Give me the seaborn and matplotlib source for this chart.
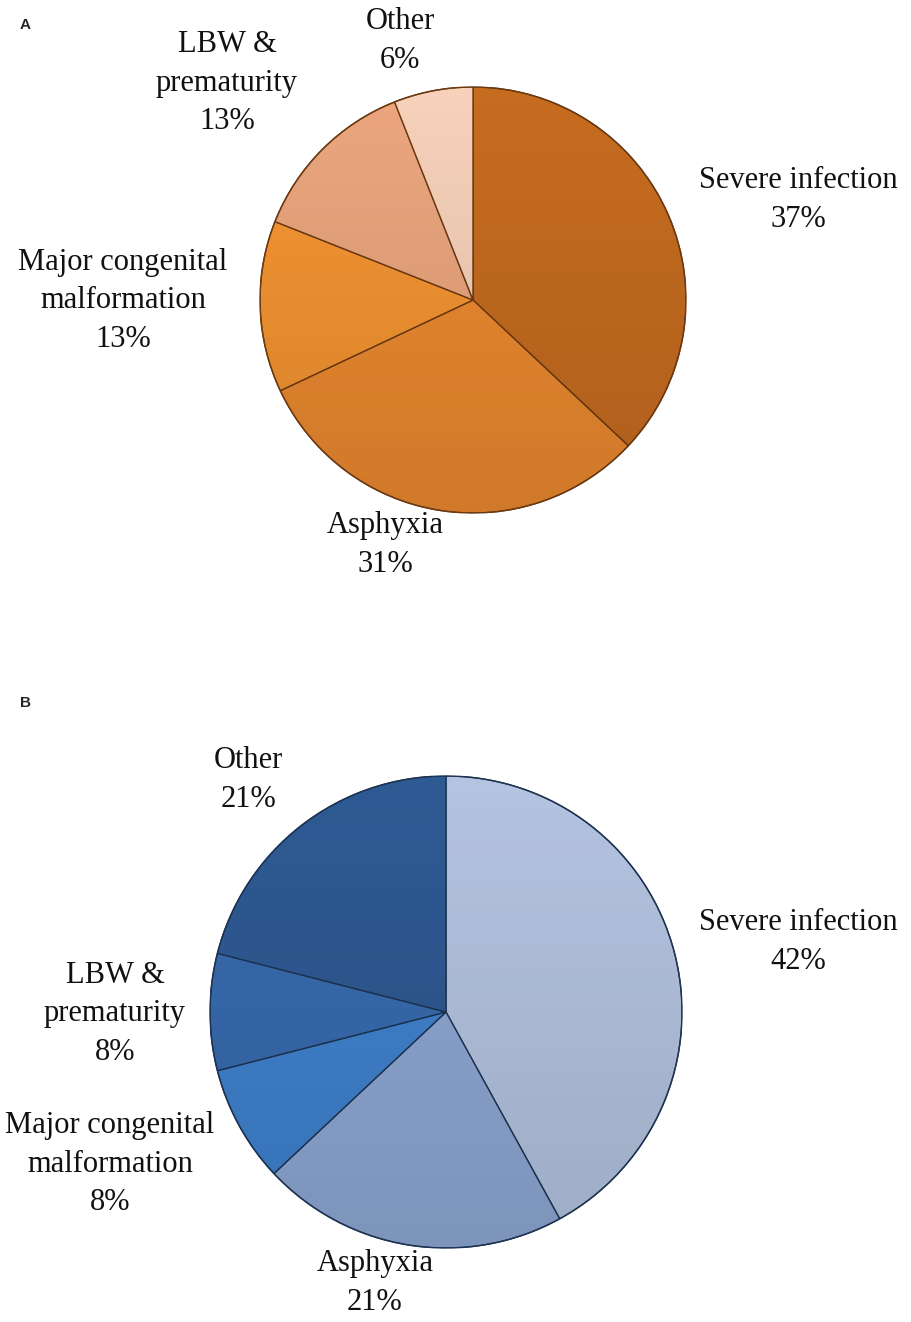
import matplotlib.pyplot as plt
import numpy as np
import seaborn as sns
from matplotlib.patches import Circle

# data
causes = ["Severe infection", "Asphyxia", "Major congenital\nmalformation", "LBW &\nprematurity", "Other"]
share_a = [37, 31, 13, 13, 6]
share_b = [42, 21, 8, 8, 21]

colors_a = ["#C66C20", "#EC8A30", "#F59532", "#EBA67E", "#F7D1BA"]
colors_b = ["#B4C3E0", "#8EA8D4", "#4082CE", "#386BAE", "#2E5A93"]

# layout in pixels (figure is 911 x 1322)
W, H = 911, 1322
pie_a = (473, 300, 213)
pie_b = (446, 1012, 236)
label_pos_a = [(798, 200), (385, 545), (123, 301), (227, 83), (400, 41)]
label_pos_b = [(798, 942), (375, 1283), (110, 1164), (115, 1014), (248, 780)]

sns.set_theme(style="white")
plt.rcParams["font.family"] = ["Liberation Serif", "DejaVu Serif"]

fig = plt.figure(figsize=(W / 100, H / 100), dpi=100)


def draw_pie(geom, values, colors, label_pos, edge, tag, tag_y):
    cx, cy, r = geom
    ax = fig.add_axes([(cx - r) / W, 1 - (cy + r) / H, 2 * r / W, 2 * r / H])
    wedges, _ = ax.pie(values, colors=colors, startangle=90, counterclock=False,
                       radius=1, wedgeprops=dict(edgecolor=edge, linewidth=1.0))
    ax.set_xlim(-1, 1)
    ax.set_ylim(-1, 1)
    ax.set_aspect("equal")
    ax.axis("off")

    # soft shading from top to bottom, kept inside the disc
    grad = np.zeros((200, 2, 4))
    grad[..., 3] = np.linspace(0.0, 0.12, 200)[:, None]
    im = ax.imshow(grad, extent=[-1, 1, -1, 1], origin="upper", zorder=3,
                   aspect="auto", interpolation="bilinear")
    disc = Circle((0, 0), 1, transform=ax.transData)
    im.set_clip_path(disc)
    ax.add_patch(Circle((0, 0), 1, fill=False, edgecolor=edge, linewidth=1.0, zorder=4))

    for cause, val, (px, py) in zip(causes, values, label_pos):
        ax.text((px - cx) / r, (cy - py) / r, f"{cause}\n{val}%", ha="center", va="center",
                fontsize=22, color="#111111", linespacing=1.42, clip_on=False)

    fig.text(20 / W, 1 - tag_y / H, tag, fontsize=11, fontweight="bold",
             family="Liberation Sans", ha="left", va="center")


draw_pie(pie_a, share_a, colors_a, label_pos_a, "#6B3A12", "A", 25)
draw_pie(pie_b, share_b, colors_b, label_pos_b, "#1E3452", "B", 703)

fig.savefig("out.png", dpi=100, facecolor="white")
